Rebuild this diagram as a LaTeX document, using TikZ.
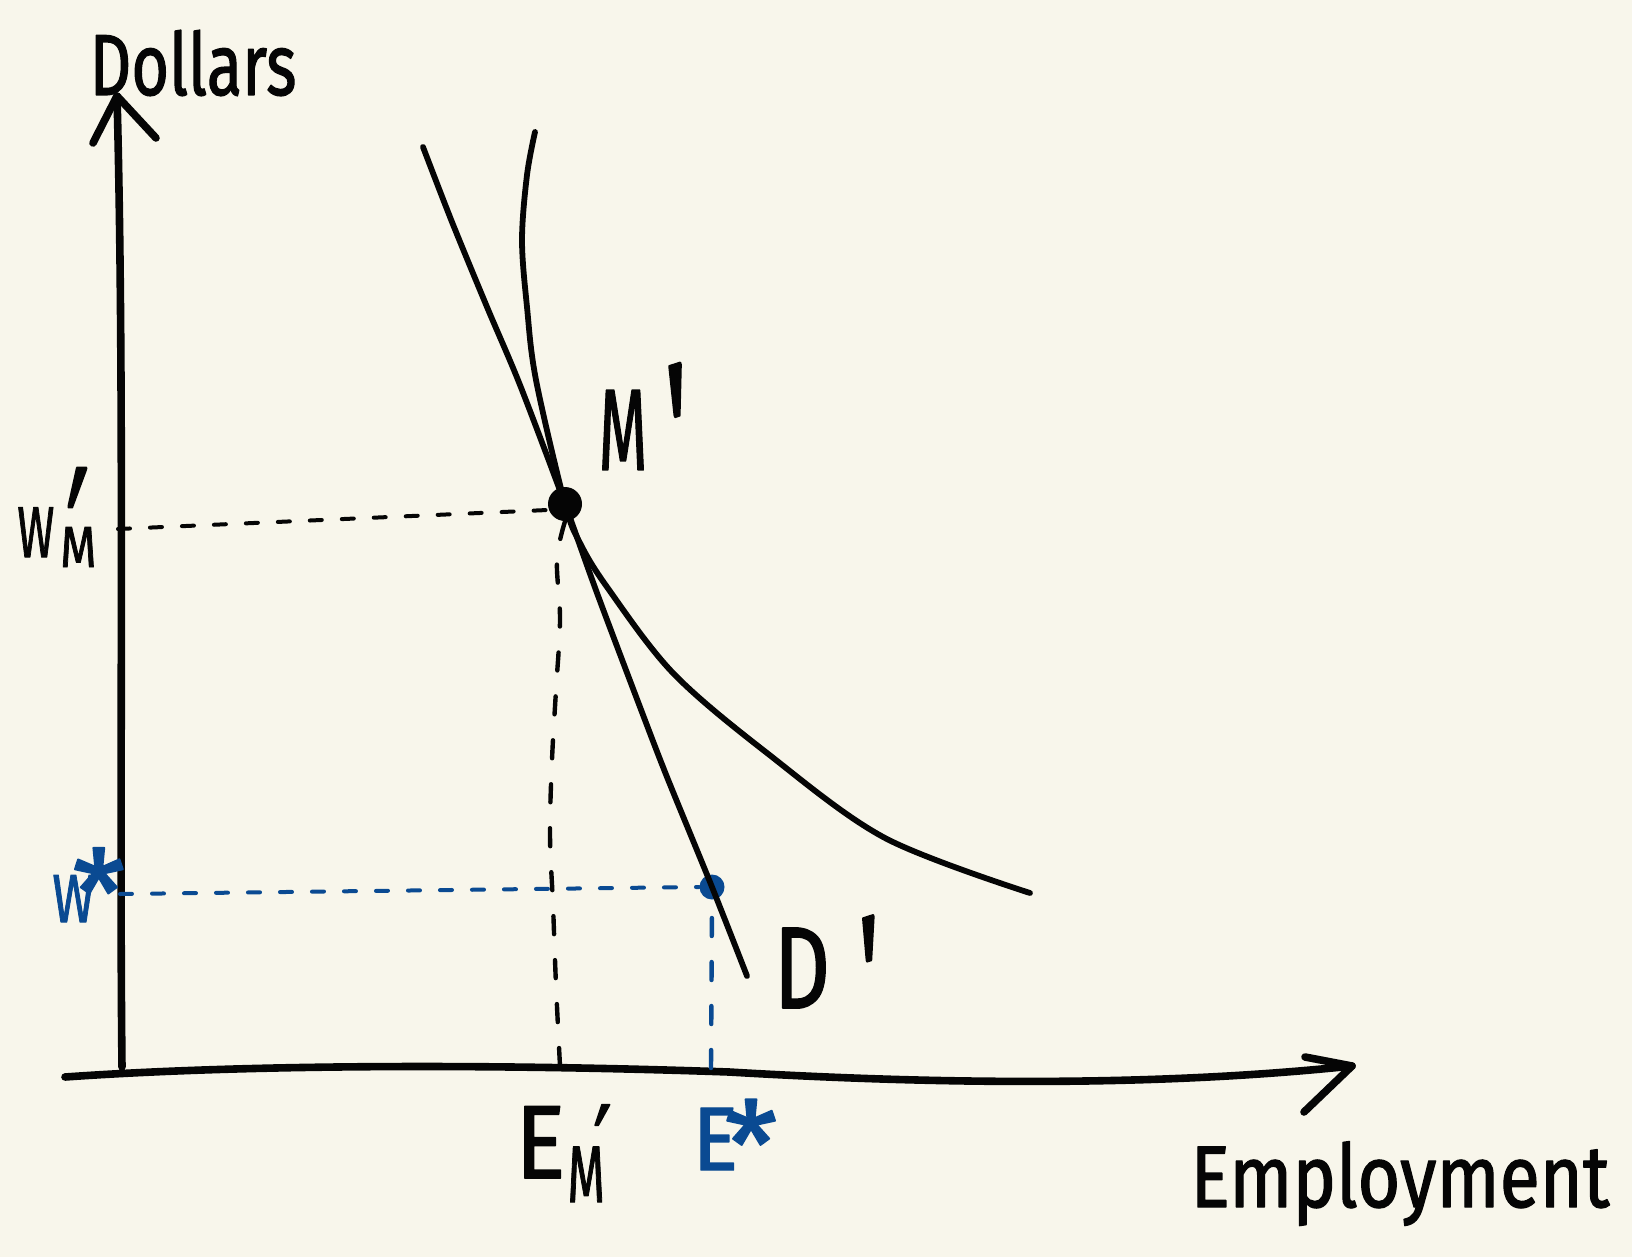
\documentclass[tikz,border=0pt]{standalone}
\usepackage{fontspec}
\setmainfont{Fira Sans}
\newfontfamily\hand{Fira Sans}[FakeBold=1.6]
\newfontfamily\primefont{DejaVu Sans}[FakeBold=1.6]
\definecolor{paper}{RGB}{248,246,235}
\definecolor{ink}{RGB}{5,5,5}
\definecolor{inkblue}{RGB}{10,74,146}
\newcommand{\fsz}[1]{\fontsize{#1}{#1}\selectfont}
% prime and asterisk in tight boxes
\newcommand{\tightprime}{{\primefont\raisebox{-0.45em}[0.3em][0pt]{′}}}
\newcommand{\tightstar}{\raisebox{-0.3em}[0.45em][0pt]{*}}
\begin{document}
\begin{tikzpicture}[x=0.5pt,y=-0.5pt,line cap=round,line join=round,
  axisline/.style={line width=3.8pt, draw=ink},
  curveline/.style={line width=2.9pt, draw=ink},
  hguide/.style={line width=2pt, dash pattern=on 6pt off 10pt},
  vguide/.style={line width=2.2pt, dash pattern=on 9pt off 13pt},
  lbl/.style={inner sep=0pt, text=ink, font=\hand},
  bluelbl/.style={inner sep=0pt, text=inkblue, font=\hand},
  dot/.style={circle, inner sep=0pt}]
\fill[paper] (0,0) rectangle (1632,1257);
\useasboundingbox (0,0) rectangle (1632,1257);

% anchor points
\coordinate (ytop) at (117,96);
\coordinate (ybot) at (122,1067);
\coordinate (xl) at (65,1077);
\coordinate (xr) at (1352,1066);
\coordinate (wm) at (118,529);
\coordinate (em) at (560,1066);
\coordinate (wstar) at (120,894);
\coordinate (estar) at (711,1068);
\node[dot, fill=ink, minimum size=17pt] (M) at (565,504) {};
\node[dot, fill=inkblue, minimum size=12.5pt] (S) at (712,887) {};

% axes
\draw[axisline] (ybot) .. controls (119,800) and (125,400) .. (ytop);
\draw[axisline] (93,143) -- (ytop) -- (156,138);
\draw[axisline] (xl) .. controls (250,1064) and (500,1064) .. (729,1072)
  .. controls (1000,1088) and (1200,1082) .. (xr);
\draw[axisline] (1305,1057) -- (xr) -- (1304,1112);

% guide lines
\draw[hguide, ink] (wm) -- (M.200);
\draw[vguide, ink] plot[smooth, tension=0.6] coordinates
  {(em) (556,985) (553,905) (550,835) (552,760) (556,690) (560,620) (557,560) (M.south)};
\draw[hguide, inkblue] (wstar) -- (S.west);
\draw[vguide, inkblue] (estar) -- (S.south);

% curves
\draw[curveline] plot[smooth, tension=0.5] coordinates
  {(423,147) (452,222) (487,307) (520,385) (M.center)
   (597,593) (640,707) (667,777) (S.center) (747,976)};
\draw[curveline] plot[smooth, tension=0.55] coordinates
  {(535,132) (527,175) (522,240) (527,307) (536,380) (M.center)
   (580,543) (607,587) (673,673) (767,753) (885,838) (1030,893)};

% labels
\node[lbl] (dollars) at (193,63) {\fsz{36}\scalebox{0.9}[1.2]{Dollars}};
\node[lbl, anchor=base] (employment) at (1400,1207) {\fsz{38}\scalebox{0.97}[1.15]{Employment}};

\node[lbl] (mlab) at (623,430) {\fsz{46}\scalebox{0.68}[1.25]{M}};
\node[lbl, anchor=north] (mprime) at (681,357) {\fsz{60}\rotatebox[origin=c]{18}{\scalebox{1}[2.2]{\tightprime}}};

\node[lbl] (dlab) at (802,968) {\fsz{58}\scalebox{0.75}[1]{D}};
\node[lbl, anchor=north] (dprime) at (873,910) {\fsz{56}\rotatebox[origin=c]{18}{\scalebox{1}[2]{\tightprime}}};

% W'_M
\node[lbl, anchor=base west] (wmlab) at (17,557)
  {{\fsz{36}\scalebox{0.62}[1]{W}}\kern3pt%
   \rlap{\kern3pt\raisebox{15pt}{\fsz{50}\scalebox{1}[2.1]{\tightprime}}}%
   \raisebox{-5pt}{\fsz{29}\scalebox{0.8}[1]{M}}};

% E'_M
\node[lbl, anchor=base west] (emlab) at (515,1178)
  {{\fsz{52}\scalebox{0.9}[1]{E}}\kern1pt%
   \rlap{\kern13pt\raisebox{21pt}{\fsz{40}\scalebox{1}[1.4]{\tightprime}}}%
   \raisebox{-12pt}{\fsz{40}\scalebox{0.6}[1]{M}}};

% W*
\node[bluelbl, anchor=base west] (wslab) at (52,922)
  {{\fsz{34}\scalebox{0.75}[1]{W}}\kern-11pt\raisebox{10.7pt}{\fsz{60}\tightstar}};

% E*
\node[bluelbl, anchor=base west] (eslab) at (692,1170)
  {{\fsz{45}\scalebox{0.95}[1]{E}}\kern-6.7pt\raisebox{9pt}{\fsz{60}\tightstar}};
\end{tikzpicture}
\end{document}
